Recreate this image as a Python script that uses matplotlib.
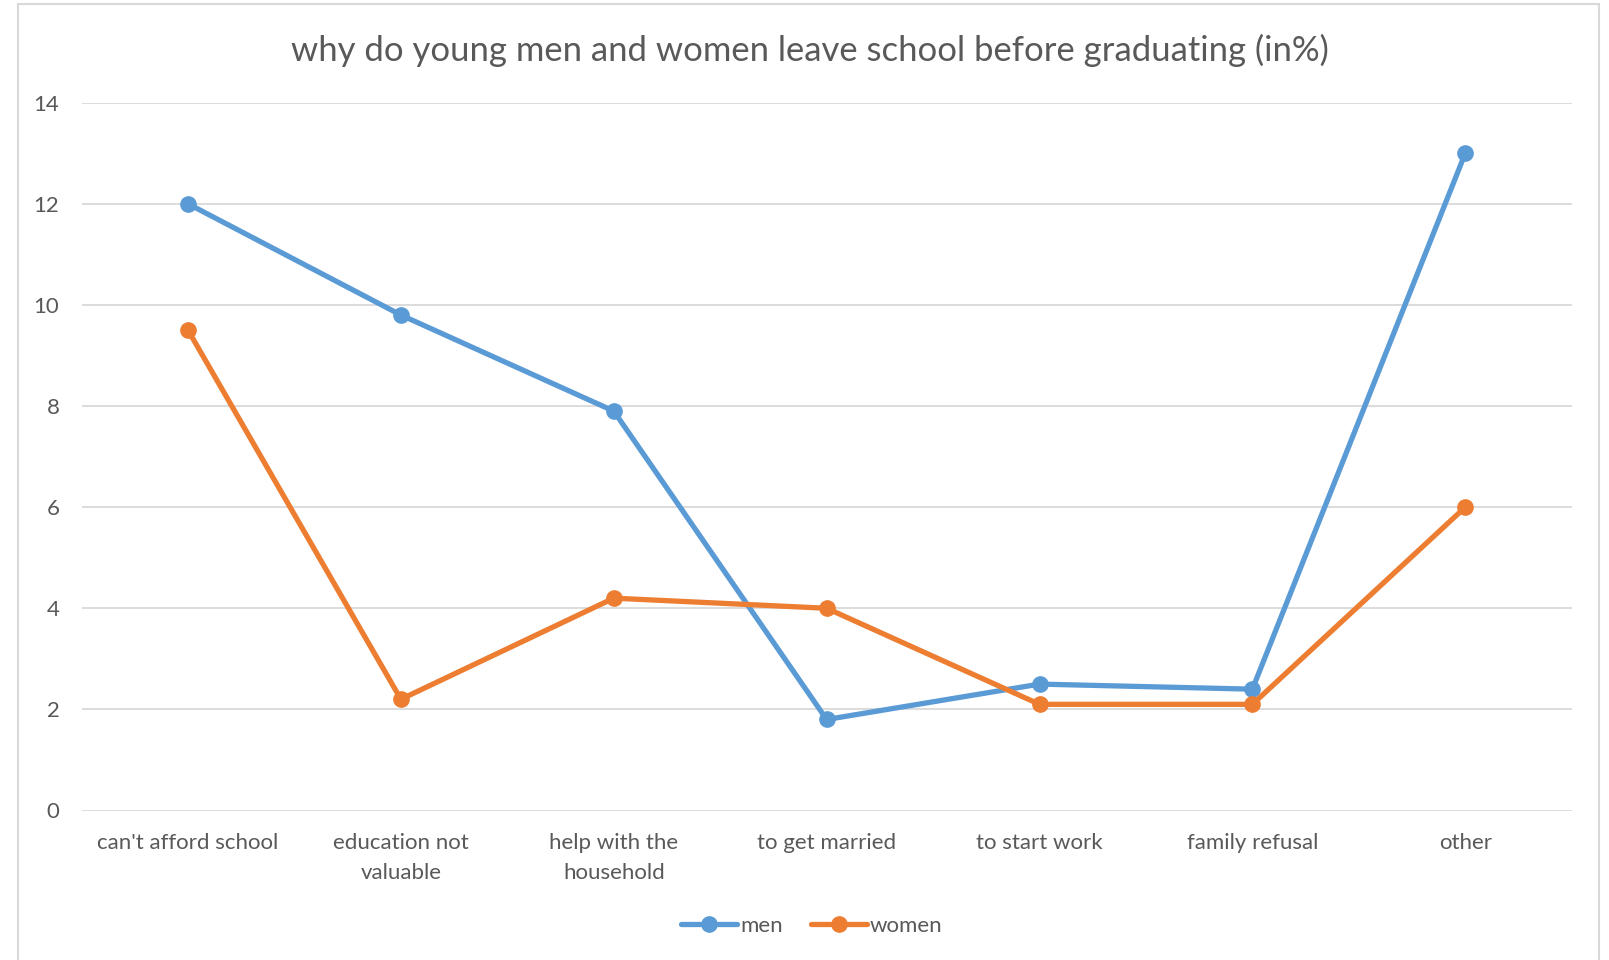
import matplotlib
matplotlib.use("Agg")
import matplotlib.pyplot as plt
from matplotlib.patches import Rectangle
from matplotlib.lines import Line2D

categories = ["can't afford school", "education not\nvaluable", "help with the\nhousehold",
              "to get married", "to start work", "family refusal", "other"]
men = [12, 9.8, 7.9, 1.8, 2.5, 2.4, 13]
women = [9.5, 2.2, 4.2, 4.0, 2.1, 2.1, 6.0]
yticks = [0, 2, 4, 6, 8, 10, 12, 14]

BLUE = "#5B9BD5"
ORANGE = "#ED7D31"
GRID = "#D9D9D9"
TXT = "#595959"

plt.rcParams['font.family'] = ['Lato', 'DejaVu Sans']

W, H = 1609, 960
fig = plt.figure(figsize=(W / 100, H / 100), dpi=100)
fig.patch.set_facecolor("white")

# chart border
fig.add_artist(Rectangle((17.5 / W, -0.05), (1599 - 17.5) / W, (H - 4) / H + 0.05,
                         transform=fig.transFigure, fill=False, edgecolor=GRID, linewidth=1.5))

left, right, top, bottom = 81.6, 1571.7, 102.7, 810.5
ax = fig.add_axes([left / W, 1 - bottom / H, (right - left) / W, (bottom - top) / H])
x = list(range(len(categories)))
ax.plot(x, men, color=BLUE, lw=3.8, marker="o", ms=11, solid_capstyle="round", label="men", zorder=3)
ax.plot(x, women, color=ORANGE, lw=3.8, marker="o", ms=11, solid_capstyle="round", label="women", zorder=3)

ax.set_xlim(-0.5, len(categories) - 0.5)
ax.set_ylim(0, 14)
ax.set_yticks(yticks)
ax.set_yticklabels([str(v) for v in yticks])
ax.set_xticks(x)
ax.set_xticklabels(categories, linespacing=1.6)
ax.tick_params(axis="both", length=0, labelsize=16, colors=TXT)
ax.tick_params(axis="x", pad=16.5)
ax.tick_params(axis="y", pad=16)
ax.grid(axis="y", color=GRID, lw=1.3)
ax.set_axisbelow(True)
for s in ax.spines.values():
    s.set_visible(False)

fig.text(810 / W, 1 - 50 / H, "why do young men and women leave school before graduating (in%)",
         ha="center", va="center", fontsize=24.9, color=TXT)

handles = [Line2D([], [], color=BLUE, lw=3.8, marker="o", ms=11, solid_capstyle="round"),
           Line2D([], [], color=ORANGE, lw=3.8, marker="o", ms=11, solid_capstyle="round")]
fig.legend(handles, ["men", "women"], loc="center", bbox_to_anchor=(812 / W, 1 - 926 / H),
           ncol=2, frameon=False, fontsize=16, labelcolor=TXT, handlelength=2.5,
           handletextpad=0.16, columnspacing=1.26, borderaxespad=0, borderpad=0)

fig.savefig("out.png", dpi=100, facecolor="white")
